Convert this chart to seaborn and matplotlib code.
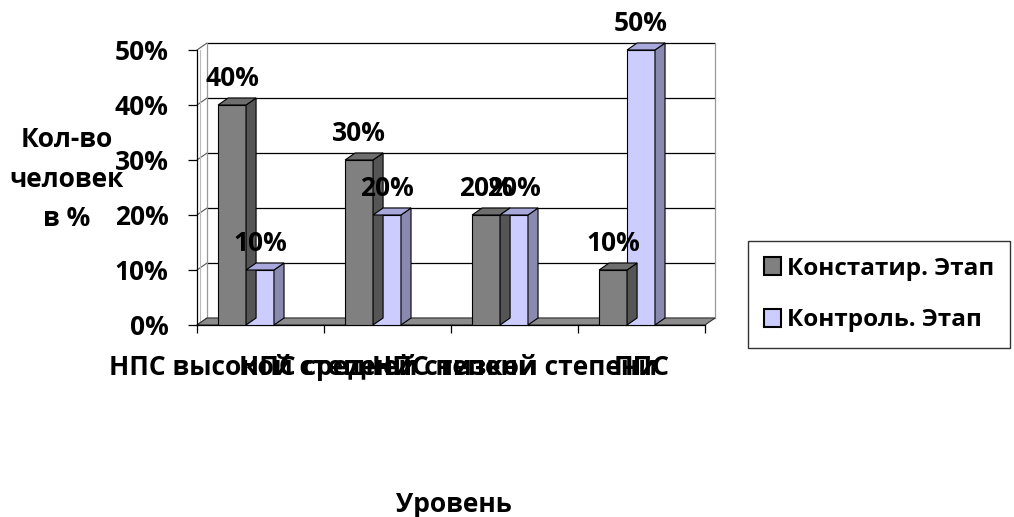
import numpy as np
import pandas as pd
import matplotlib
matplotlib.use("Agg")
import matplotlib.pyplot as plt
import seaborn as sns
from matplotlib.patches import Polygon, Patch

# данные
categories = ['НПС высокой степени', 'НПС средней степени', 'НПС низкой степени', 'ППС']
series = ['Констатир. Этап', 'Контроль. Этап']
konst = [0.40, 0.30, 0.20, 0.10]
kontr = [0.10, 0.20, 0.20, 0.50]
y_ticks = [0.0, 0.1, 0.2, 0.3, 0.4, 0.5]
y_tick_labels = ['0%', '10%', '20%', '30%', '40%', '50%']

df = pd.DataFrame({
    'cat': categories * 2,
    'stage': [series[0]] * 4 + [series[1]] * 4,
    'val': konst + kontr,
})

sns.set_style('white')
fam = ['Open Sans', 'Noto Sans', 'DejaVu Sans']
plt.rcParams['font.family'] = fam
plt.rcParams['font.weight'] = 'bold'
plt.rcParams['text.color'] = 'black'
plt.rcParams['xtick.color'] = 'black'
plt.rcParams['ytick.color'] = 'black'
plt.rcParams['axes.labelcolor'] = 'black'

front = {series[0]: '#808080', series[1]: '#CCCCFF'}
side = {series[0]: '#555555', series[1]: '#8A8AB0'}
top = {series[0]: '#6E6E6E', series[1]: '#A8A8DC'}

fig = plt.figure(figsize=(10.14, 5.17), dpi=100)
ax = fig.add_axes([0.1943, 0.3714, 0.501, 0.5319])

sns.barplot(data=df, x='cat', y='val', hue='stage', palette=front, width=0.44,
            edgecolor='black', linewidth=0.8, saturation=1, legend=False, ax=ax, zorder=3)

x0, x1 = -0.386, 3.614
ax.set_xlim(x0, x1)
ax.set_ylim(0, 0.5)
dx, dy = 0.079, 0.0127

# задняя стенка и сетка
for v in y_ticks:
    ax.plot([x0 + dx, x1 + dx], [v + dy, v + dy], color='black', lw=0.9, zorder=1, clip_on=False)
    ax.plot([x0, x0 + dx], [v, v + dy], color='#555555', lw=0.8, zorder=1, clip_on=False)
ax.plot([x0 + dx, x0 + dx], [dy, 0.5 + dy], color='#999999', lw=0.9, zorder=1, clip_on=False)
ax.plot([x1 + dx, x1 + dx], [dy, 0.5 + dy], color='#999999', lw=0.9, zorder=1, clip_on=False)
ax.plot([x0 + dx * 0.3, x0 + dx * 0.3], [0, 0.5], color='#bbbbbb', lw=0.8, zorder=1, clip_on=False)

# пол
ax.add_patch(Polygon([(x0, 0), (x1, 0), (x1 + dx, dy), (x0 + dx, dy)], closed=True,
                     facecolor='#8C8C8C', edgecolor='#333333', lw=0.8, zorder=2, clip_on=False))

# объём столбцов
for s, cont in zip(series, ax.containers):
    for p in cont:
        bx, bw, bh = p.get_x(), p.get_width(), p.get_height()
        ax.add_patch(Polygon([(bx + bw, 0), (bx + bw + dx, dy), (bx + bw + dx, bh + dy), (bx + bw, bh)],
                             closed=True, facecolor=side[s], edgecolor='black', lw=0.8, zorder=3, clip_on=False))
        ax.add_patch(Polygon([(bx, bh), (bx + bw, bh), (bx + bw + dx, bh + dy), (bx + dx, bh + dy)],
                             closed=True, facecolor=top[s], edgecolor='black', lw=0.8, zorder=3, clip_on=False))
        ax.text(bx + bw / 2, bh + 0.034, f'{bh * 100:.0f}%', ha='center', va='baseline',
                fontsize=19, fontweight='bold', family=fam, zorder=5, clip_on=False)

# оси
for sp in ['top', 'right']:
    ax.spines[sp].set_visible(False)
ax.spines['left'].set_color('black')
ax.spines['bottom'].set_color('black')
ax.spines['left'].set_linewidth(0.9)
ax.spines['bottom'].set_linewidth(0.9)
ax.set_yticks(y_ticks)
ax.set_yticklabels(y_tick_labels, fontsize=19, fontweight='bold')
ax.set_xticks(np.arange(len(categories) + 1) + x0)
ax.set_xticklabels([])
ax.set_xticks(np.arange(len(categories)) + x0 + 0.5, minor=True)
ax.set_xticklabels(categories, minor=True, fontsize=19, fontweight='bold')
for t in ax.get_xticklabels(minor=True):
    t.set_verticalalignment('baseline')
ax.tick_params(axis='y', direction='out', length=6.5, width=0.9, pad=14, left=True)
ax.tick_params(axis='x', which='major', direction='out', length=6, width=0.9, bottom=True)
ax.tick_params(axis='x', which='minor', length=0, pad=36)
ax.set_xlabel('')
ax.set_ylabel('')

fig.text(67 / 1014, 1 - 179 / 517, 'Кол-во\nчеловек\nв %', ha='center', va='center',
         fontsize=19, fontweight='bold', linespacing=1.6)
fig.text(454 / 1014, 1 - 512 / 517, 'Уровень', ha='center', va='baseline',
         fontsize=19, fontweight='bold')

handles = [Patch(facecolor=front[s], edgecolor='black', lw=1.5, label=s) for s in series]
leg = fig.legend(handles=handles, loc='center', bbox_to_anchor=(879 / 1014, 1 - 294.5 / 517),
                 frameon=True, fancybox=False, handlelength=0.72, handleheight=0.72,
                 handletextpad=0.25, labelspacing=1.15, borderpad=0.65, prop={'weight': 'bold', 'size': 17.5})
leg.get_frame().set_edgecolor('black')
leg.get_frame().set_linewidth(1.0)

fig.savefig('out.png', dpi=100)
